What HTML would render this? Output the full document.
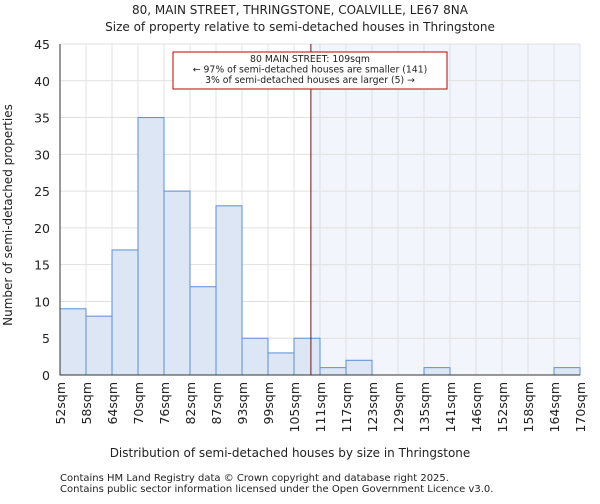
<!DOCTYPE html>
<html><head><meta charset="utf-8"><style>
body{margin:0;background:#fff;font-family:"DejaVu Sans","Liberation Sans",sans-serif}
svg text{font-family:"DejaVu Sans","Liberation Sans",sans-serif;fill:#222}
</style></head><body>
<svg id="chart" width="600" height="500" xmlns="http://www.w3.org/2000/svg">
<text x="300" y="14" text-anchor="middle" font-size="12">80, MAIN STREET, THRINGSTONE, COALVILLE, LE67 8NA</text>
<text x="300" y="31" text-anchor="middle" font-size="12">Size of property relative to semi-detached houses in Thringstone</text>
<g id="grid"></g>
<g id="bars"></g>
<g id="axes"></g>
<text x="290" y="457" text-anchor="middle" font-size="12">Distribution of semi-detached houses by size in Thringstone</text>
<text transform="translate(12,215) rotate(-90)" text-anchor="middle" font-size="12">Number of semi-detached properties</text>
<text x="60" y="481" font-size="10" fill="#555">Contains HM Land Registry data © Crown copyright and database right 2025.</text>
<text x="60" y="492" font-size="10" fill="#555">Contains public sector information licensed under the Open Government Licence v3.0.</text>
</svg>
<script>
const labels=["52sqm","58sqm","64sqm","70sqm","76sqm","82sqm","87sqm","93sqm","99sqm","105sqm","111sqm","117sqm","123sqm","129sqm","135sqm","141sqm","146sqm","152sqm","158sqm","164sqm","170sqm"];
const counts=[9,8,17,35,25,12,23,5,3,5,1,2,0,0,1,0,0,0,0,1];
const yTicks=[0,5,10,15,20,25,30,35,40,45];
const markerBin=9.65;
const NS="http://www.w3.org/2000/svg";
const L=60,R=580,T=44,B=375,yMax=45;
const bw=(R-L)/counts.length;
const x=i=>L+i*bw, y=v=>B-(v/yMax)*(B-T);
function mk(p,tag,a){const e=document.createElementNS(NS,tag);for(const k in a)e.setAttribute(k,a[k]);p.appendChild(e);return e;}
const svg=document.getElementById('chart'),grid=document.getElementById('grid'),bars=document.getElementById('bars'),axes=document.getElementById('axes');
const mx=x(markerBin);
const shade=mk(grid,'rect',{x:mx,y:T,width:R-mx,height:B-T,fill:'#f3f5fc'});


for(let i=0;i<=counts.length;i++){const g=mk(grid,'line',{x1:x(i),x2:x(i),y1:T,y2:B,stroke:'#e0e0e0','stroke-width':1});

}
yTicks.forEach(v=>{const g=mk(grid,'line',{x1:L,x2:R,y1:y(v),y2:y(v),stroke:'#e0e0e0','stroke-width':1});


const t=mk(axes,'text',{x:L-10,y:y(v)+5,'text-anchor':'end','font-size':12.5});t.textContent=v;

});
counts.forEach((c,i)=>{if(c<=0)return;const r=mk(bars,'rect',{x:x(i),y:y(c),width:bw,height:B-y(c),fill:'#dce6f5',stroke:'#5b8fd0','stroke-width':1});

});
labels.forEach((l,i)=>{const t=mk(axes,'text',{transform:`translate(${x(i)+5},382) rotate(-90)`,'text-anchor':'end','font-size':12.5});t.textContent=l;

});
const ax=mk(axes,'path',{d:`M${L},${T}V${B}H${R}`,fill:'none',stroke:'#333','stroke-width':1});


const ml=mk(svg,'line',{x1:mx,x2:mx,y1:T,y2:B,stroke:'#7a1010','stroke-width':1});


const box=mk(svg,'rect',{x:173,y:52,width:274,height:37,fill:'#fff',stroke:'#c00000','stroke-width':1});


["80 MAIN STREET: 109sqm","← 97% of semi-detached houses are smaller (141)","3% of semi-detached houses are larger (5) →"].forEach((s,i)=>{const t=mk(svg,'text',{x:310,y:62+i*10.5,'text-anchor':'middle','font-size':9.3});t.textContent=s;

});
</script>
</body></html>
